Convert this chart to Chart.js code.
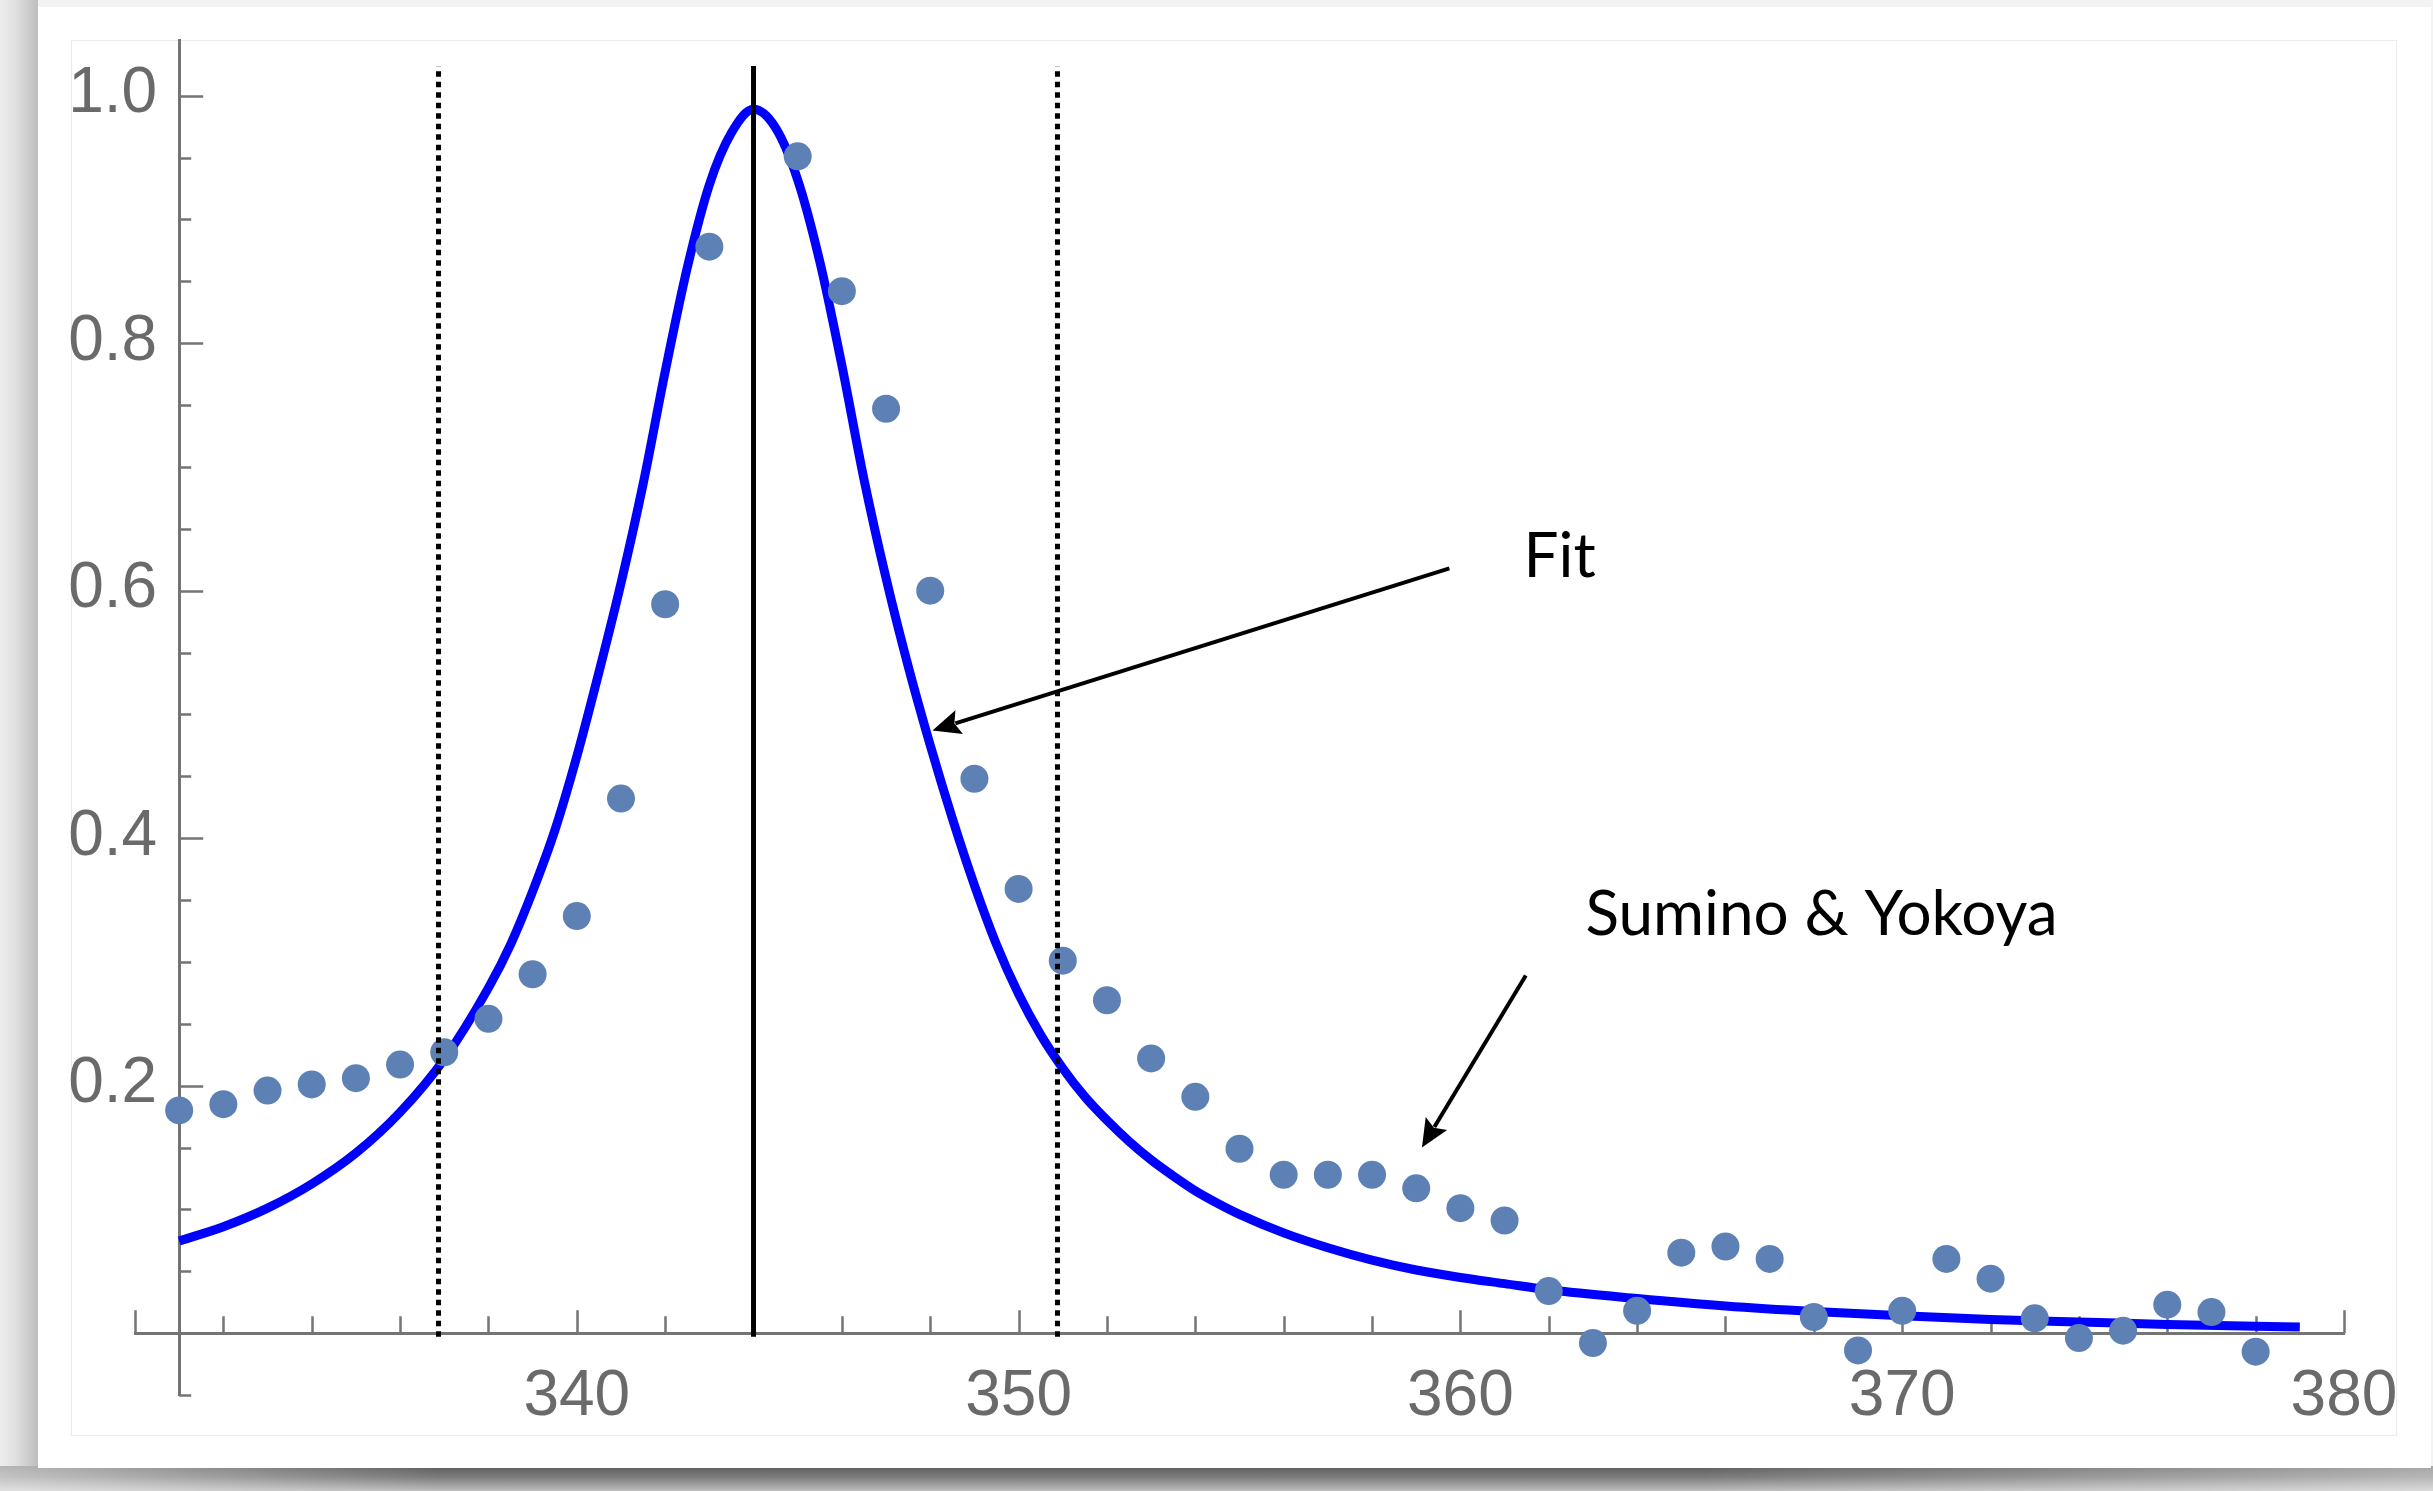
<!DOCTYPE html>
<html>
<head>
<meta charset="utf-8">
<script src="https://cdn.jsdelivr.net/npm/chart.js@4.4.1/dist/chart.umd.min.js"></script>
<style>
  body { margin: 0; width: 2433px; height: 1491px; overflow: hidden; position: relative; background: #f3f3f3; }
  #leftShade { position: absolute; left: 0; top: 0; width: 38px; height: 1491px;
    background: linear-gradient(to right, #ededed 0%, #dedede 45%, #bdbdbd 100%); }
  #bottomShade { position: absolute; left: 0; top: 1466px; width: 2433px; height: 25px;
    background: linear-gradient(to right, rgba(255,255,255,0.55) 0%, rgba(255,255,255,0) 18%, rgba(255,255,255,0) 70%, rgba(255,255,255,0.45) 100%),
                linear-gradient(to bottom, #5e5e5e 0%, #7c7c7c 45%, #bdbdbd 100%); }
  #card { position: absolute; left: 38px; top: 7px; width: 2393px; height: 1461px; background: #fff; }
  #frame { position: absolute; left: 71px; top: 40px; width: 2326px; height: 1396px; border: 1px solid #ebebeb; box-sizing: border-box; }
  canvas { position: absolute; left: 0; top: 0; }
</style>
</head>
<body>
<div id="leftShade"></div>
<div id="bottomShade"></div>
<div id="card"></div>
<div id="frame"></div>
<canvas id="fitChart" width="2433" height="1491"></canvas>
<script>
// Sumino & Yokoya measurements
const suminoX = [331, 332, 333, 334, 335, 336, 337, 338, 339, 340, 341, 342, 343,
  345, 346, 347, 348, 349, 350, 351, 352, 353, 354, 355, 356, 357, 358, 359, 360,
  361, 362, 363, 364, 365, 366, 367, 368, 369, 370, 371, 372, 373, 374, 375, 376, 377, 378];
const suminoY = [0.180, 0.185, 0.196, 0.201, 0.206, 0.217, 0.227, 0.254, 0.290, 0.337, 0.432, 0.589, 0.878,
  0.951, 0.842, 0.747, 0.600, 0.448, 0.359, 0.301, 0.269, 0.222, 0.191, 0.149, 0.128, 0.128, 0.128, 0.117, 0.101,
  0.091, 0.034, -0.008, 0.018, 0.065, 0.070, 0.060, 0.013, -0.014, 0.018, 0.060, 0.044, 0.012, -0.004, 0.002, 0.023, 0.017, -0.015];

// fitted curve
const fitX = [331, 332, 333, 334, 335, 336, 337, 338, 338.5, 339, 339.5, 340, 340.5, 341, 341.5, 342, 342.5, 343, 343.5, 344,
  344.5, 345, 345.5, 346, 346.5, 347, 347.5, 348, 348.5, 349, 349.5, 350, 350.5, 351, 351.5, 352, 352.5, 353, 353.5, 354, 354.5, 355,
  356, 357, 358, 359, 360, 361, 362, 364, 366, 368, 370, 372, 374, 376, 378, 379];
const fitY = [0.0745, 0.086, 0.101, 0.1205, 0.1455, 0.1785, 0.2215, 0.279, 0.314, 0.357, 0.406, 0.466, 0.534, 0.606, 0.686, 0.777, 0.861, 0.928, 0.970, 0.989,
  0.974, 0.932, 0.866, 0.782, 0.690, 0.610, 0.539, 0.475, 0.416, 0.362, 0.314, 0.274, 0.241, 0.214, 0.191, 0.172, 0.155, 0.140, 0.127, 0.115, 0.105, 0.096,
  0.081, 0.069, 0.059, 0.051, 0.045, 0.040, 0.035, 0.028, 0.022, 0.0175, 0.014, 0.011, 0.009, 0.007, 0.0055, 0.005];

// marker lines
const peakX = 344.0;
const halfWidthX = [336.87, 350.88];
const markerTop = 1.024;
const markerBottom = -0.003;

// axes
const xTickLabels = [340, 350, 360, 370, 380];
const yTickLabels = [0.2, 0.4, 0.6, 0.8, 1.0];
const yAxisAtX = 331;

const axisColor = '#747474';
const labelColor = '#6a6a6a';
const labelFont = '64px "Liberation Sans"';

const annotations = [
  { text: 'Fit', from: [359.75, 0.618], to: [348.05, 0.487], label: [361.43, 0.611] },
  { text: 'Sumino & Yokoya', from: [361.48, 0.289], to: [359.13, 0.150], label: [362.83, 0.322] },
];

const toPoints = (xs, ys) => xs.map((x, i) => ({ x: x, y: ys[i] }));

// tick marks point into the plot, plus the y labels left of the axis
const axisTicks = {
  id: 'axisTicks',
  beforeDatasetsDraw(chart) {
    const { ctx, scales: { x, y } } = chart;
    const axisY = y.getPixelForValue(0);
    const axisX = x.getPixelForValue(yAxisAtX);
    ctx.save();
    ctx.strokeStyle = axisColor;
    ctx.lineWidth = 2.5;
    ctx.beginPath();
    for (let i = 0; i <= (x.max - x.min) / 2; i++) {
      const v = x.min + i * 2;
      const px = Math.round(x.getPixelForValue(v)) + 0.5;
      const len = v % 10 === 0 ? 23 : 17;
      ctx.moveTo(px, axisY);
      ctx.lineTo(px, axisY - len);
    }
    for (let i = -1; i <= 20; i++) {
      if (i === 0) continue;
      const py = Math.round(y.getPixelForValue(i * 0.05)) + 0.5;
      const len = i % 4 === 0 ? 24 : 12;
      ctx.moveTo(axisX, py);
      ctx.lineTo(axisX + len, py);
    }
    ctx.stroke();

    ctx.fillStyle = labelColor;
    ctx.font = labelFont;
    ctx.textAlign = 'right';
    ctx.textBaseline = 'middle';
    yTickLabels.forEach(v => {
      ctx.fillText(v.toFixed(1), axisX - 22, y.getPixelForValue(v) - 1);
    });
    ctx.restore();
  }
};

function drawArrow(ctx, x1, y1, x2, y2) {
  const ang = Math.atan2(y2 - y1, x2 - x1);
  const headLen = 28, headHalf = 12.5;
  const bx = x2 - headLen * Math.cos(ang);
  const by = y2 - headLen * Math.sin(ang);
  ctx.beginPath();
  ctx.moveTo(x1, y1);
  ctx.lineTo(bx + 4 * Math.cos(ang), by + 4 * Math.sin(ang));
  ctx.stroke();
  ctx.beginPath();
  ctx.moveTo(x2, y2);
  ctx.lineTo(bx + headHalf * Math.sin(ang), by - headHalf * Math.cos(ang));
  ctx.lineTo(bx + 5 * Math.cos(ang), by + 5 * Math.sin(ang));
  ctx.lineTo(bx - headHalf * Math.sin(ang), by + headHalf * Math.cos(ang));
  ctx.closePath();
  ctx.fill();
}

const arrowNotes = {
  id: 'arrowNotes',
  afterDraw(chart) {
    const { ctx, scales: { x, y } } = chart;
    ctx.save();
    ctx.strokeStyle = '#000';
    ctx.fillStyle = '#000';
    ctx.lineWidth = 4;
    ctx.font = '62px Lato';
    ctx.textAlign = 'left';
    ctx.textBaseline = 'alphabetic';
    annotations.forEach(a => {
      drawArrow(ctx, x.getPixelForValue(a.from[0]), y.getPixelForValue(a.from[1]),
        x.getPixelForValue(a.to[0]), y.getPixelForValue(a.to[1]));
      ctx.fillText(a.text, x.getPixelForValue(a.label[0]), y.getPixelForValue(a.label[1]));
    });
    ctx.restore();
  }
};

const verticalLine = (xv, dash, width) => ({
  data: [{ x: xv, y: markerBottom }, { x: xv, y: markerTop }],
  showLine: true,
  borderColor: '#000',
  borderWidth: width,
  borderDash: dash,
  pointRadius: 0,
  order: 0,
});

new Chart(document.getElementById('fitChart'), {
  type: 'scatter',
  data: {
    datasets: [
      verticalLine(peakX, [], 5),
      verticalLine(halfWidthX[0], [5.5, 5], 5),
      verticalLine(halfWidthX[1], [5.5, 5], 5),
      {
        label: 'Sumino & Yokoya',
        data: toPoints(suminoX, suminoY),
        backgroundColor: '#5E81B5',
        borderWidth: 0,
        pointRadius: 14,
        order: 1,
      },
      {
        label: 'Fit',
        data: toPoints(fitX, fitY),
        showLine: true,
        borderColor: '#0000FF',
        borderWidth: 9,
        cubicInterpolationMode: 'monotone',
        pointRadius: 0,
        order: 2,
      },
    ],
  },
  options: {
    responsive: false,
    animation: false,
    events: [],
    layout: { padding: { left: 135, right: 89, top: 40, bottom: 96 } },
    plugins: {
      legend: { display: false },
      tooltip: { enabled: false },
    },
    scales: {
      x: {
        type: 'linear',
        min: 330,
        max: 380,
        position: { y: 0 },
        afterBuildTicks: (scale) => { scale.ticks = xTickLabels.map(v => ({ value: v })); },
        grid: { display: false, drawTicks: false },
        border: { display: true, color: axisColor, width: 3 },
        ticks: {
          color: labelColor,
          font: { family: 'Liberation Sans', size: 64 },
          padding: 26,
          maxRotation: 0,
          autoSkip: false,
          callback: (v) => String(v),
        },
      },
      y: {
        type: 'linear',
        min: -0.05,
        max: 1.045,
        position: { x: yAxisAtX },
        grid: { display: false, drawTicks: false },
        border: { display: true, color: axisColor, width: 3 },
        ticks: { display: false },
      },
    },
  },
  plugins: [axisTicks, arrowNotes],
});
</script>
</body>
</html>
